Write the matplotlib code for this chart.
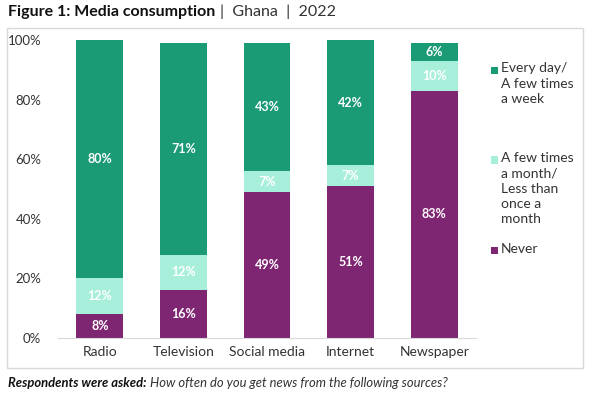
import matplotlib
matplotlib.use("Agg")
import matplotlib.pyplot as plt
from matplotlib.patches import Rectangle

categories = ["Radio", "Television", "Social media", "Internet", "Newspaper"]
never = [8, 16, 49, 51, 83]
monthly = [12, 12, 7, 7, 10]
weekly = [80, 71, 43, 42, 6]
series_names = ["Every day/\nA few times\na week", "A few times\na month/\nLess than\nonce a\nmonth", "Never"]
yticks = [0, 20, 40, 60, 80, 100]

c_week = "#1B9A76"
c_month = "#A8EFDB"
c_never = "#7F2673"

plt.rcParams['font.family'] = ['Lato', 'DejaVu Sans']

W, H = 602, 399
fig = plt.figure(figsize=(W/100, H/100), dpi=100)
ax = fig.add_axes([58/W, 1-338/H, (476-58)/W, (338-40)/H])

x = list(range(len(categories)))
bw = 0.56
ax.bar(x, never, bw, color=c_never)
b2 = [n for n in never]
ax.bar(x, monthly, bw, bottom=b2, color=c_month)
b3 = [n + m for n, m in zip(never, monthly)]
ax.bar(x, weekly, bw, bottom=b3, color=c_week)

for i in x:
    ax.text(i, never[i]/2, f"{never[i]}%", ha='center', va='center', color='white', fontsize=9, fontweight='bold')
    ax.text(i, never[i] + monthly[i]/2, f"{monthly[i]}%", ha='center', va='center', color='white', fontsize=9, fontweight='bold')
    ax.text(i, b3[i] + weekly[i]/2, f"{weekly[i]}%", ha='center', va='center', color='white', fontsize=9, fontweight='bold')

ax.set_xlim(-0.5, 4.5)
ax.set_ylim(0, 100)
ax.set_yticks(yticks)
ax.set_yticklabels([f"{t}%" for t in yticks], fontsize=9.5, color='#333333')
ax.set_xticks(x)
ax.set_xticklabels(categories, fontsize=10, color='#333333')
ax.tick_params(axis='both', length=0)
ax.tick_params(axis='y', pad=12)
ax.tick_params(axis='x', pad=6)
for s in ['top', 'right', 'left']:
    ax.spines[s].set_visible(False)
ax.spines['bottom'].set_color('#d9d9d9')

# frame
fig.patches.append(Rectangle((7/W, 1-368/H), (583-7)/W, (368-28)/H, transform=fig.transFigure,
                             fill=False, edgecolor='#d9d9d9', linewidth=1))

# legend
leg_colors = [c_week, c_month, c_never]
leg_y = [70, 160, 250]
for name, col, yy in zip(series_names, leg_colors, leg_y):
    fig.patches.append(Rectangle((491/W, 1-(yy+3.5)/H), 7/W, 7/H, transform=fig.transFigure,
                                 facecolor=col, edgecolor='none'))
    fig.text(501/W, 1-(yy-7.5)/H, name, ha='left', va='top', fontsize=10, color='#333333', linespacing=1.32)

# title
t1 = fig.text(8/W, 1-12/H, "Figure 1: Media consumption", ha='left', va='center', fontsize=11.5, fontweight='bold', color='#111111')
fig.canvas.draw()
bb = t1.get_window_extent()
fig.text((bb.x1 + 5)/W, 1-12/H, "|  Ghana  |  2022", ha='left', va='center', fontsize=11.5, color='#333333')

# footer
f1 = fig.text(8/W, 1-383/H, "Respondents were asked:", ha='left', va='center', fontsize=9.4, fontweight='bold', style='italic', color='#111111')
fig.canvas.draw()
bb = f1.get_window_extent()
fig.text((bb.x1 + 3)/W, 1-383/H, "How often do you get news from the following sources?", ha='left', va='center', fontsize=9.4, style='italic', color='#333333')

fig.savefig("out.png", dpi=100)
